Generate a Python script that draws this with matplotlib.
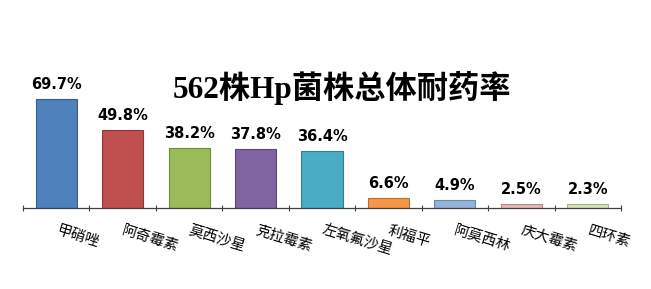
import numpy as np
import matplotlib.pyplot as plt

plt.rcParams['font.family'] = ['Noto Sans CJK SC', 'DejaVu Sans']

drugs = ["甲硝唑", "阿奇霉素", "莫西沙星", "克拉霉素", "左氧氟沙星",
         "利福平", "阿莫西林", "庆大霉素", "四环素"]
rates = [69.7, 49.8, 38.2, 37.8, 36.4, 6.6, 4.9, 2.5, 2.3]
colors = ["#4F81BD", "#C0504D", "#9BBB59", "#8064A2", "#4BACC6",
          "#F79646", "#95B3D7", "#E6B9B8", "#D7E4BD"]
edges = ["#385D8A", "#8C3836", "#71893F", "#5C4776", "#357D91",
         "#B66D31", "#6B88B0", "#B38887", "#A5B38E"]


if __name__ == "__main__":
    fig = plt.figure(figsize=(6.51, 2.89), dpi=100)
    ax = fig.add_axes([23 / 651, 81 / 289, 598 / 651, 125 / 289])

    x = np.arange(len(drugs))
    bars = ax.bar(x, rates, width=0.62, color=colors, edgecolor=edges, linewidth=0.8)

    for b, r in zip(bars, rates):
        ax.annotate(f"{r:.1f}%", (b.get_x() + b.get_width() / 2, r),
                    xytext=(0, 5), textcoords="offset points",
                    ha="center", va="bottom", fontsize=10.5, fontweight="bold",
                    family="DejaVu Sans")

    ax.set_xlim(-0.5, len(drugs) - 0.5)
    ax.set_ylim(0, 80)

    ax.set_xticks(x + 0.03)
    ax.set_xticklabels(drugs, rotation=-17, rotation_mode="anchor",
                       ha="left", va="top", fontsize=10.5)
    ax.tick_params(axis="x", which="major", length=0, pad=11)
    ax.set_xticks(np.arange(len(drugs) + 1) - 0.5, minor=True)
    ax.tick_params(axis="x", which="minor", length=5, direction="inout",
                   color="#404040", width=0.8)

    ax.set_yticks([])
    for s in ["top", "right", "left"]:
        ax.spines[s].set_visible(False)
    ax.spines["bottom"].set_color("#404040")
    ax.spines["bottom"].set_linewidth(0.9)

    fig.text(342 / 651, 1 - 88 / 289, "562株Hp菌株总体耐药率",
             ha="center", va="center", fontsize=22.5, fontweight="bold",
             family=["Liberation Serif", "Noto Sans CJK SC"])

    fig.savefig("out.png", dpi=100)
